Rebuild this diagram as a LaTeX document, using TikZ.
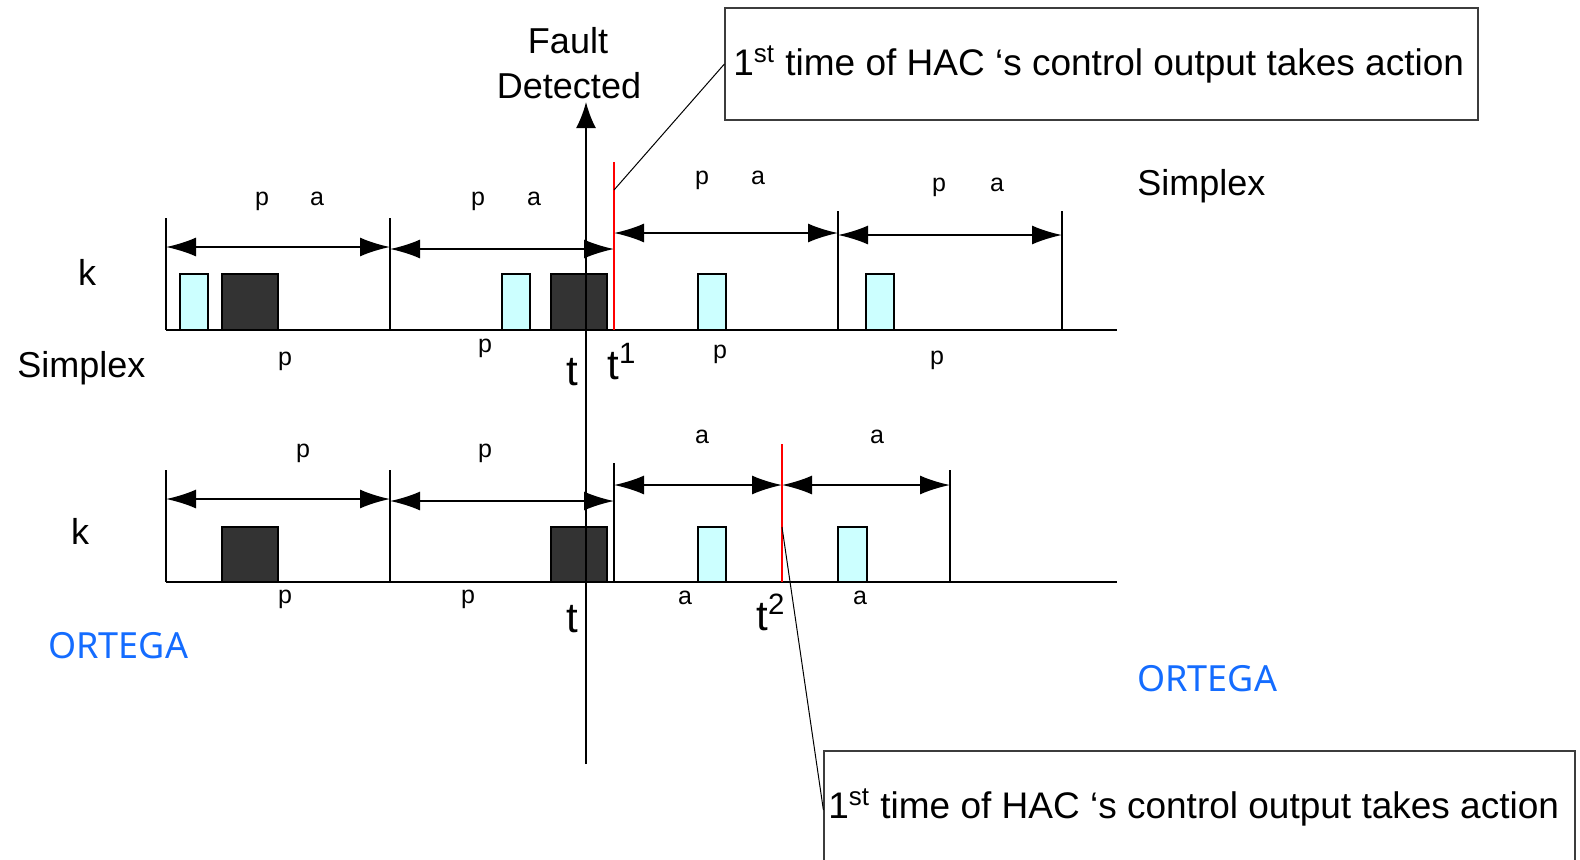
\documentclass[tikz,border=0pt]{standalone}
\usepackage{fontspec}
\setmainfont{Liberation Sans}
\newfontfamily\ortfont{Noto Sans}
\usetikzlibrary{arrows.meta}
\definecolor{lightcyan}{RGB}{204,255,255}
\definecolor{darkfill}{RGB}{51,51,51}
\definecolor{ortblue}{RGB}{20,108,255}
\definecolor{boxgray}{RGB}{60,60,60}
\tikzset{
  biglbl/.style={inner sep=0pt, font=\fontsize{18}{21}\selectfont},
  smalllbl/.style={inner sep=0pt, anchor=base, font=\fontsize{12.5}{15}\selectfont},
  tlbl/.style={inner sep=0pt, anchor=base west, font=\fontsize{21}{25}\selectfont},
  axisline/.style={line width=1pt},
  dimarrow/.style={line width=1pt, {Latex[length=15pt,width=9.5pt]}-{Latex[length=15pt,width=9.5pt]}},
  cyanbox/.style={draw=black, line width=1pt, fill=lightcyan},
  darkbox/.style={draw=black, line width=1pt, fill=darkfill},
  redline/.style={draw=red, line width=1pt},
  calloutline/.style={draw=black, line width=0.5pt},
  calloutbox/.style={draw=boxgray, line width=0.6pt, inner sep=0pt},
  ortlbl/.style={inner sep=0pt, anchor=base west, text=ortblue, font=\ortfont\fontsize{18}{21}\selectfont}
}
\begin{document}
\begin{tikzpicture}[x=0.5pt,y=-0.5pt]
\useasboundingbox (0,0) rectangle (1580,859);

% ---------- top timeline (Simplex) ----------
\draw[cyanbox] (180,274) rectangle (208,330);
\draw[darkbox] (222,274) rectangle (278,330);
\draw[cyanbox] (502,274) rectangle (530,330);
\draw[darkbox] (551,274) rectangle (607,330);
\draw[cyanbox] (698,274) rectangle (726,330);
\draw[cyanbox] (866,274) rectangle (894,330);

\coordinate (ta0) at (166,218);
\coordinate (ta1) at (390,218);
\coordinate (ta2) at (838,211);
\coordinate (ta3) at (1062,211);
\draw[axisline] (166,330) -- (1117,330);
\draw[axisline] (ta0) -- (166,330);
\draw[axisline] (ta1) -- (390,330);
\draw[axisline] (ta2) -- (838,330);
\draw[axisline] (ta3) -- (1062,330);

\draw[dimarrow] (166,247) -- (390,247);
\draw[dimarrow] (390,249) -- (614,249);
\draw[dimarrow] (614,233) -- (838,233);
\draw[dimarrow] (838,235) -- (1062,235);

\coordinate (r1top) at (614,162);
\coordinate (r1bot) at (614,330);
\draw[redline] (r1top) -- (r1bot);
\coordinate (c1) at (614,190);

% ---------- bottom timeline (ORTEGA) ----------
\draw[darkbox] (222,527) rectangle (278,582);
\draw[darkbox] (551,527) rectangle (607,582);
\draw[cyanbox] (698,527) rectangle (726,582);
\draw[cyanbox] (838,527) rectangle (867,582);

\draw[axisline] (166,582) -- (1117,582);
\draw[axisline] (166,470) -- (166,582);
\draw[axisline] (390,470) -- (390,582);
\draw[axisline] (614,463) -- (614,582);
\draw[axisline] (950,470) -- (950,582);

\draw[dimarrow] (166,499) -- (390,499);
\draw[dimarrow] (390,501) -- (614,501);
\draw[dimarrow] (614,485) -- (782,485);
\draw[dimarrow] (782,485) -- (950,485);

\draw[redline] (782,444) -- (782,582);
\coordinate (c2) at (782,527);

% ---------- fault axis ----------
\coordinate (axbot) at (586,764);
\coordinate (axtop) at (586,102);
\draw[line width=1pt, -{Latex[length=13pt,width=10pt]}] (axbot) -- (axtop);

\node[biglbl, anchor=base] (fault) at (568,53) {Fault};
\node[biglbl, anchor=base] (detected) at (569,98) {Detected};

% ---------- callout boxes ----------
\node[calloutbox, minimum width=376.5pt, minimum height=56pt] (box1) at (1101.5,64) {};
\node[inner sep=0pt, anchor=base west, font=\fontsize{18.5}{22}\selectfont] (txt1) at (733,75)
  {1\textsuperscript{st} time of HAC ‘s control output takes action};
\draw[calloutline] (c1) -- (box1.west);

\node[calloutbox, minimum width=375.5pt, minimum height=59pt] (box2) at (1199.5,810) {};
\node[inner sep=0pt, anchor=base west, font=\fontsize{18.5}{22}\selectfont] (txt2) at (828,818)
  {1\textsuperscript{st} time of HAC ‘s control output takes action};
\draw[calloutline] (c2) -- (box2.west);

% ---------- big labels ----------
\node[biglbl, anchor=base] (k1) at (87,285) {k};
\node[biglbl, anchor=base] (k2) at (80,544) {k};
\node[biglbl, anchor=base west] (simpL) at (17,377) {Simplex};
\node[biglbl, anchor=base west] (simpR) at (1137,195) {Simplex};
\node[ortlbl] (ortL) at (48,658) {ORTEGA};
\node[ortlbl] (ortR) at (1137,691) {ORTEGA};

\node[tlbl, anchor=base] (t1) at (572,385) {t};
\node[tlbl] (t1s) at (607,379) {t\textsuperscript{1}};
\node[tlbl, anchor=base] (t2) at (572,632) {t};
\node[tlbl] (t2s) at (756,630) {t\textsuperscript{2}};

% ---------- small labels, top ----------
\node[smalllbl] (pa1p) at (262,205) {p};
\node[smalllbl] (pa1a) at (317,205) {a};
\node[smalllbl] (pa2p) at (478,205) {p};
\node[smalllbl] (pa2a) at (534,205) {a};
\node[smalllbl] (pa3p) at (702,184) {p};
\node[smalllbl] (pa3a) at (758,184) {a};
\node[smalllbl] (pa4p) at (939,191) {p};
\node[smalllbl] (pa4a) at (997,191) {a};
\node[smalllbl] (pb1) at (285,365) {p};
\node[smalllbl] (pb2) at (485,352) {p};
\node[smalllbl] (pb3) at (720,358) {p};
\node[smalllbl] (pb4) at (937,364) {p};

% ---------- small labels, bottom ----------
\node[smalllbl] (q1) at (303,457) {p};
\node[smalllbl] (q2) at (485,457) {p};
\node[smalllbl] (q3) at (702,443) {a};
\node[smalllbl] (q4) at (877,443) {a};
\node[smalllbl] (qb1) at (285,603) {p};
\node[smalllbl] (qb2) at (468,603) {p};
\node[smalllbl] (qb3) at (685,604) {a};
\node[smalllbl] (qb4) at (860,604) {a};
\end{tikzpicture}
\end{document}
